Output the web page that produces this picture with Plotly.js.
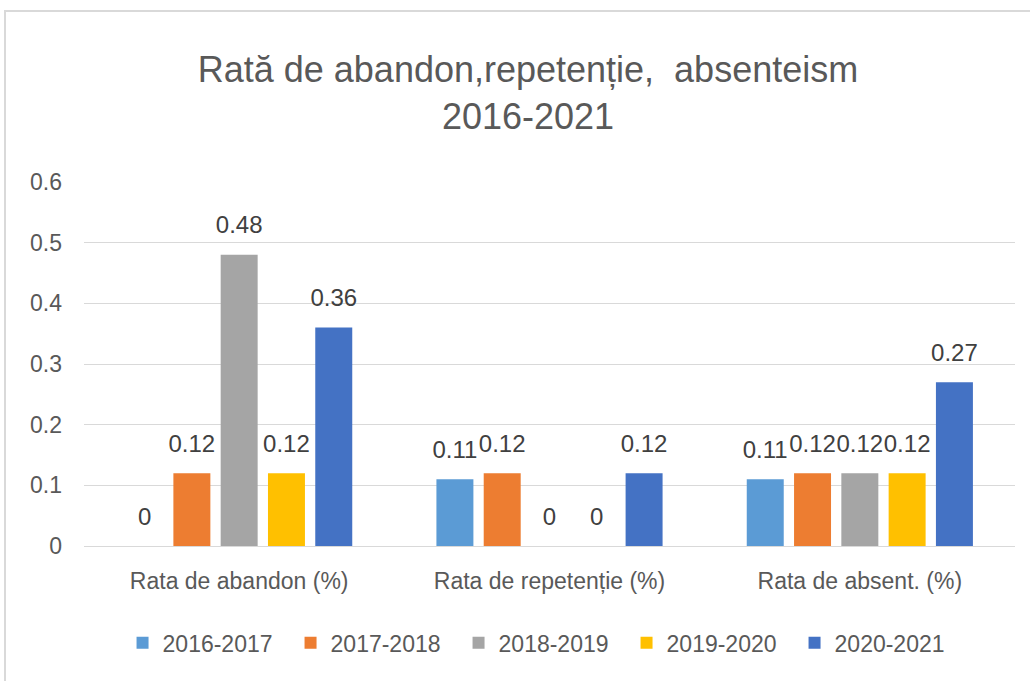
<!DOCTYPE html>
<html>
<head>
<meta charset="utf-8">
<script src="https://cdn.plot.ly/plotly-3.0.1.min.js"></script>
<style>
html,body{margin:0;padding:0;background:#fff;overflow:hidden;}
#wrap{position:relative;width:1030px;height:681px;}
#chart{position:absolute;left:0;top:0;width:1030px;height:681px;}
#frame{position:absolute;left:4px;top:10px;width:1040px;height:700px;border:2px solid #d9d9d9;pointer-events:none;}
</style>
</head>
<body>
<div id="wrap"><div id="chart"></div><div id="frame"></div></div>
<script>
const categories = ["Rata de abandon (%)", "Rata de repetenție (%)", "Rata de absent. (%)"];
const seriesNames = ["2016-2017", "2017-2018", "2018-2019", "2019-2020", "2020-2021"];
const v2016_2017 = [0, 0.11, 0.11];
const v2017_2018 = [0.12, 0.12, 0.12];
const v2018_2019 = [0.48, 0, 0.12];
const v2019_2020 = [0.12, 0, 0.12];
const v2020_2021 = [0.36, 0.12, 0.27];
const yTicks = [0, 0.1, 0.2, 0.3, 0.4, 0.5, 0.6];
const yTickText = ["0", "0.1", "0.2", "0.3", "0.4", "0.5", "0.6"];
const colors = ["#5B9BD5", "#ED7D31", "#A5A5A5", "#FFC000", "#4472C4"];
const values = [v2016_2017, v2017_2018, v2018_2019, v2019_2020, v2020_2021];

const FONT = "Liberation Sans, Arial, sans-serif";
const bars = seriesNames.map((name, i) => ({
  type: "bar",
  name: name,
  x: categories,
  y: values[i],
  marker: {color: colors[i]},
  hoverinfo: "none"
}));
const labels = seriesNames.map((name, i) => ({
  type: "scatter",
  mode: "markers+text",
  name: name,
  x: categories,
  y: values[i],
  text: values[i].map(String),
  textposition: "top center",
  textfont: {family: FONT, size: 24, color: "#404040"},
  marker: {size: 23, color: "rgba(0,0,0,0)"},
  cliponaxis: false,
  showlegend: false,
  hoverinfo: "none"
}));

const layout = {
  width: 1030,
  height: 681,
  paper_bgcolor: "#ffffff",
  plot_bgcolor: "#ffffff",
  margin: {l: 84, r: 15, t: 182, b: 135},
  barmode: "group",
  bargap: 0.238,
  bargroupgap: 0.218,
  scattermode: "group",
  scattergap: 0.238,
  title: {
    text: "Rată de abandon,repetenție,  absenteism<br>2016-2021",
    font: {family: FONT, size: 36, color: "#595959"},
    x: 0.5126, xanchor: "center",
    y: 0.879, yanchor: "top", yref: "container"
  },
  xaxis: {
    showgrid: false,
    showline: true,
    linecolor: "#d9d9d9",
    linewidth: 1,
    ticks: "",
    ticklabelstandoff: 14,
    tickfont: {family: FONT, size: 23, color: "#595959"}
  },
  yaxis: {
    range: [0, 0.6],
    tickvals: yTicks,
    ticktext: yTickText,
    showgrid: true,
    gridcolor: "#d9d9d9",
    gridwidth: 1,
    zeroline: false,
    showline: false,
    ticks: "",
    ticklabelstandoff: 21,
    tickfont: {family: FONT, size: 23, color: "#595959"}
  },
  legend: {
    orientation: "h",
    x: 0.0414, xanchor: "left",
    y: -0.266, yanchor: "middle",
    font: {family: FONT, size: 23, color: "#595959"},
    entrywidth: 123,
    itemclick: false
  },
  showlegend: true
};

Plotly.newPlot("chart", bars.concat(labels), layout, {staticPlot: true, displayModeBar: false});
</script>
</body>
</html>
